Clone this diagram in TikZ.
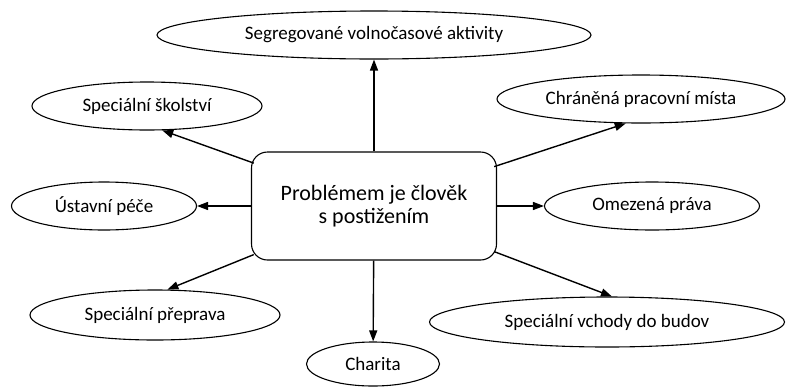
\documentclass[tikz,border=0pt]{standalone}
\usepackage{fontspec}
\setmainfont{Carlito}
\usetikzlibrary{shapes.geometric,arrows.meta}

\begin{document}
\begin{tikzpicture}[x=1pt, y=-1pt,
	topic/.style={draw, ellipse, line width=1.1pt, inner sep=0pt, minimum height=48pt, font=\fontsize{19}{22}\selectfont},
	hub/.style={draw, rounded corners=16pt, line width=1.1pt, minimum width=245pt, minimum height=108pt, align=center, font=\fontsize{22}{23}\selectfont},
	link/.style={line width=1.4pt, -{Triangle[length=11pt,width=8pt]}}]
	\useasboundingbox (0,0) rectangle (786,386);
	\node[hub] (hub) at (374,206) {Problémem je člověk\\s postižením};
	\node[topic, minimum width=434pt] (volno) at (374,35) {Segregované volnočasové aktivity};
	\node[topic, minimum width=230pt] (skol) at (147,106) {Speciální školství};
	\node[topic, minimum width=185pt] (ustav) at (104,206) {Ústavní péče};
	\node[topic, minimum width=250pt, minimum height=50pt] (preprava) at (155,315) {Speciální přeprava};
	\node[topic, minimum width=133pt, minimum height=44pt] (charita) at (373,364) {Charita};
	\node[topic, minimum width=355pt, minimum height=50pt] (vchody) at (607,322) {Speciální vchody do budov};
	\node[topic, minimum width=215pt] (prava) at (652,206) {Omezená práva};
	\node[topic, minimum width=288pt] (mista) at (641,99) {Chráněná pracovní místa};
	% spojnice
	\draw[link] (hub) -- (volno);
	\draw[link, shorten <=-3pt] (hub) -- (skol.-58);
	\draw[link] (hub) -- (ustav);
	\draw[link, shorten <=-3pt] (hub) -- (preprava.64);
	\draw[link] (hub) -- (charita);
	\draw[link, shorten <=-3pt] (hub) -- (vchody.79);
	\draw[link] (hub) -- (prava);
	\draw[link, shorten <=-3pt] (hub) -- (mista.-122);
\end{tikzpicture}
\end{document}
